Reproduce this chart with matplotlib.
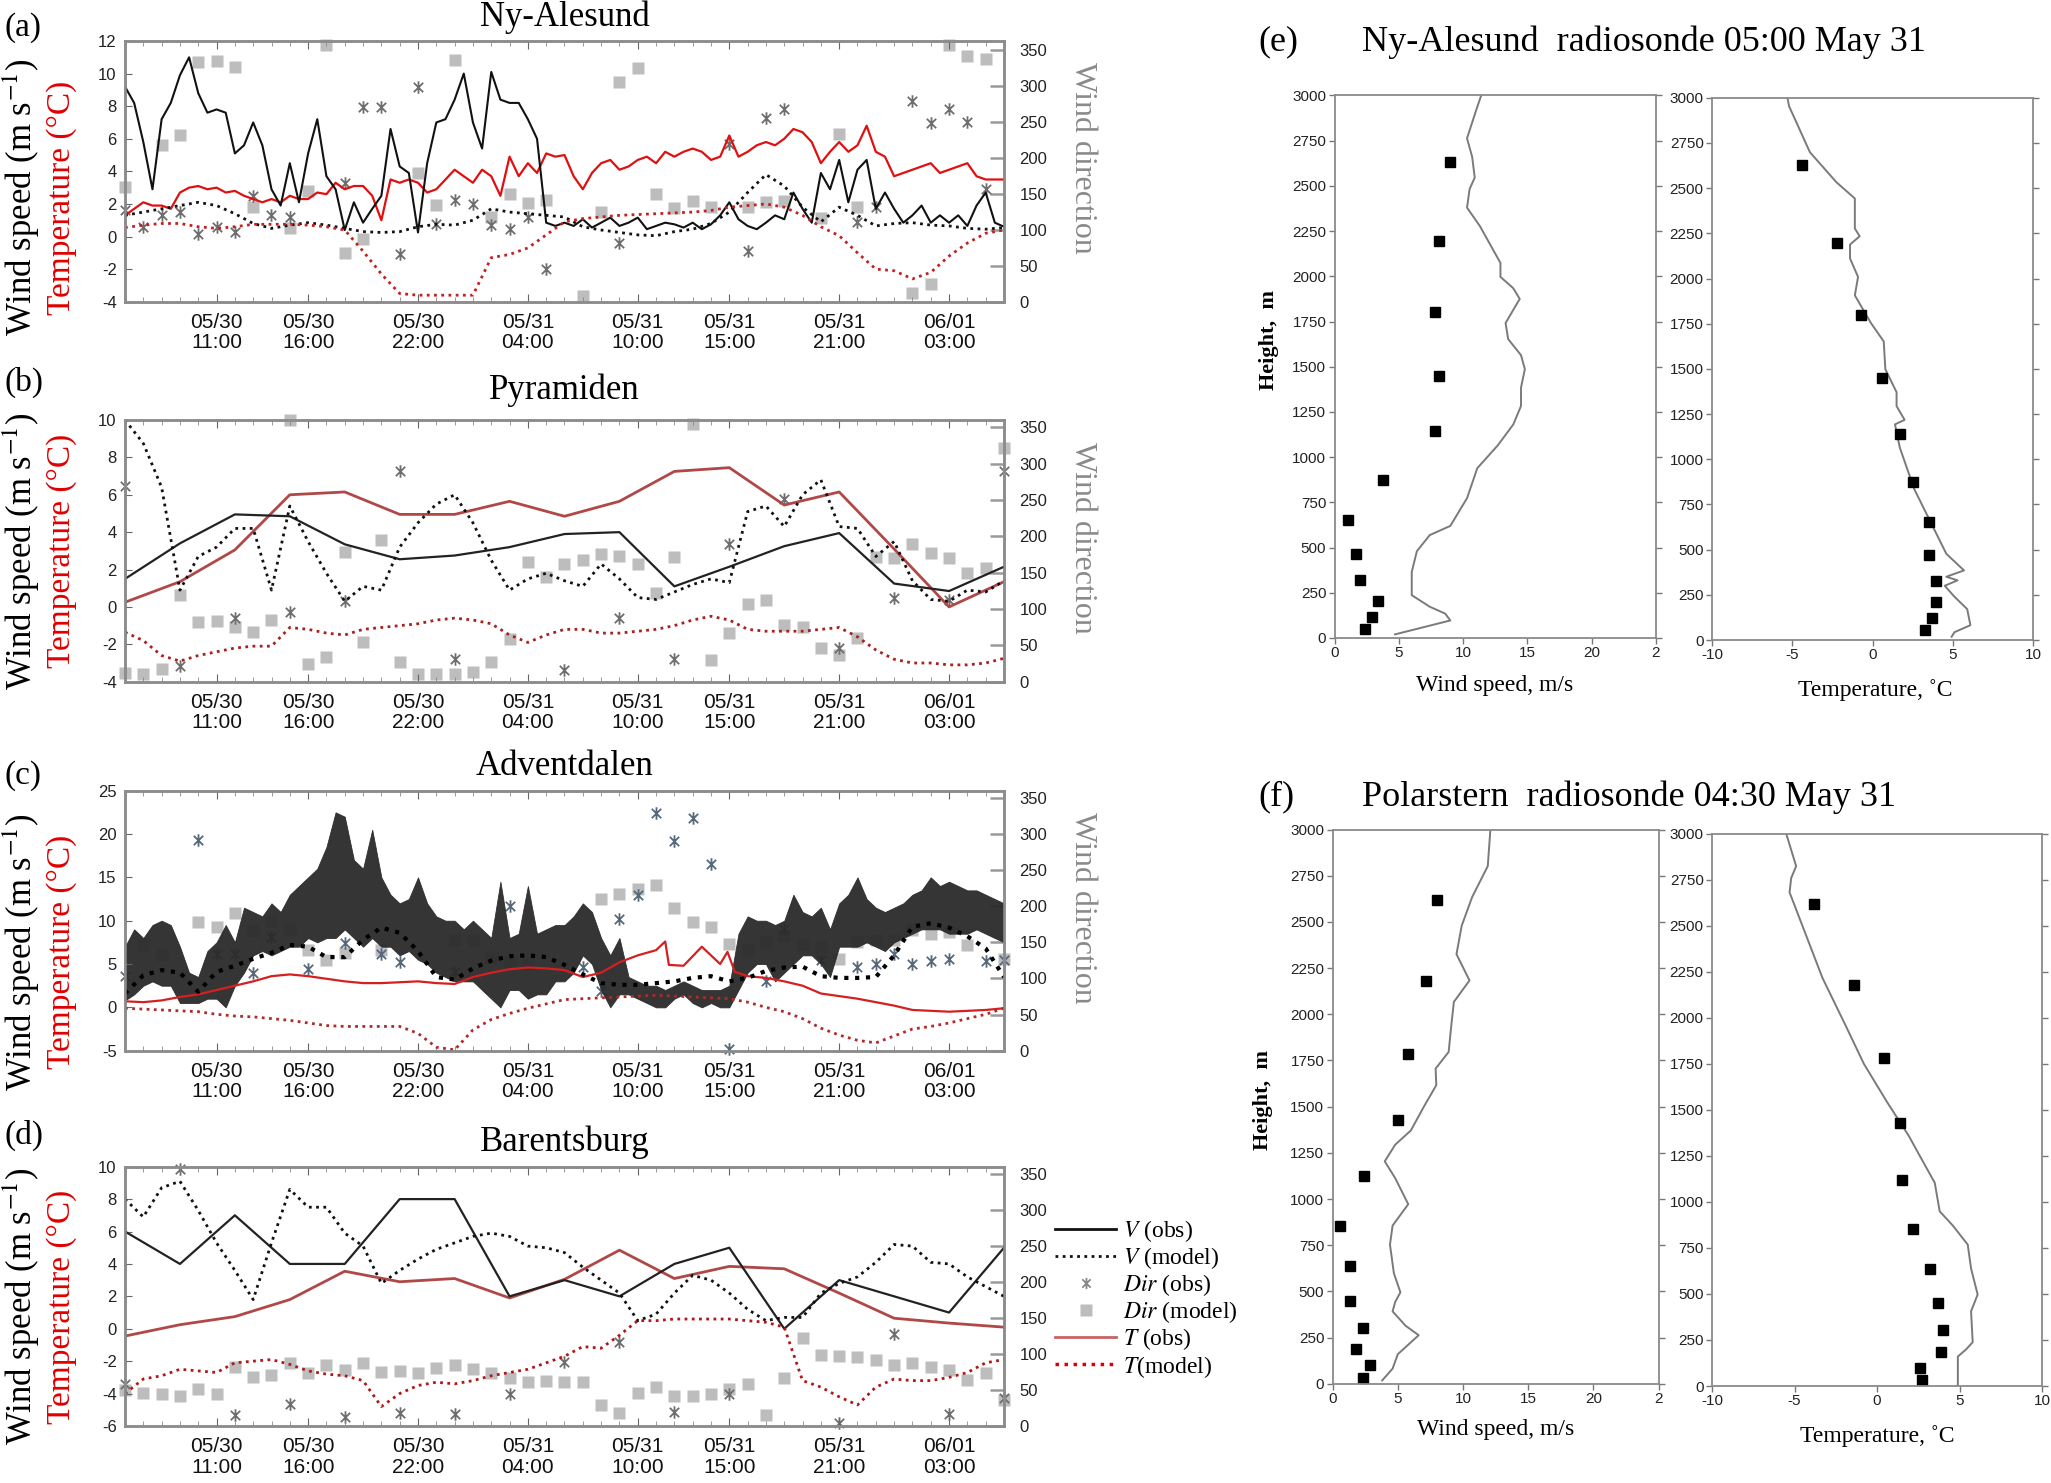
import numpy as np
import matplotlib
matplotlib.use('Agg')
from matplotlib import pyplot as plt
from matplotlib.lines import Line2D
from matplotlib.path import Path

SERIF = 'Liberation Serif'
SANS = 'Liberation Sans'
plt.rcParams['font.family'] = SANS
plt.rcParams['mathtext.fontset'] = 'stix'
plt.rcParams['axes.unicode_minus'] = False

# ---------------- time axis (hours after 05/30 06:00) ----------------
tick_hours = [5, 10, 16, 22, 28, 33, 39, 45]
tick_labels = ['05/30\n11:00', '05/30\n16:00', '05/30\n22:00', '05/31\n04:00',
               '05/31\n10:00', '05/31\n15:00', '05/31\n21:00', '06/01\n03:00']
h_half = np.arange(0, 48.5, 0.5)
h_hour = np.arange(0, 49)
h_3 = np.arange(0, 49, 3)

# ---------------- (a) Ny-Alesund ----------------
a_wind_obs = [9.2, 8.2, 5.8, 2.9, 7.2, 8.2, 9.9, 11.0, 8.8, 7.6,
              7.8, 7.6, 5.1, 5.6, 7.0, 5.6, 2.9, 1.9, 4.5, 2.1,
              5.1, 7.2, 3.7, 2.9, 0.4, 2.1, 0.85, 1.7, 2.5, 6.6,
              4.3, 3.9, 0.25, 4.5, 7.0, 7.2, 8.4, 10.0, 7.0, 5.4,
              10.1, 8.4, 8.2, 8.2, 7.2, 6.0, 0.85, 0.65, 0.85, 0.65,
              1.06, 0.55, 0.85, 1.16, 0.65, 0.85, 1.16, 0.45, 0.65, 0.85,
              0.75, 0.55, 0.85, 0.45, 0.75, 1.3, 2.1, 1.06, 0.65, 0.45,
              0.85, 1.3, 1.06, 2.7, 1.7, 0.85, 3.9, 2.9, 4.7, 2.1,
              4.1, 4.7, 1.7, 2.7, 1.7, 0.85, 1.3, 1.9, 0.85, 1.3,
              0.85, 1.3, 0.65, 1.9, 2.7, 0.85, 0.6]
a_temp_obs = [1.3, 1.7, 2.1, 1.9, 1.9, 1.7, 2.7, 3.0, 3.1, 2.9,
              3.0, 2.7, 2.8, 2.5, 2.3, 2.1, 2.3, 2.1, 2.5, 2.3,
              2.3, 2.7, 2.6, 3.3, 2.9, 3.1, 3.1, 2.5, 1.0, 3.5,
              3.3, 3.5, 3.3, 2.7, 2.9, 3.5, 4.1, 3.7, 3.3, 4.1,
              3.7, 2.5, 4.9, 3.7, 4.5, 3.9, 5.1, 4.9, 5.0, 3.7,
              2.9, 3.9, 4.5, 4.7, 4.1, 4.3, 4.7, 4.9, 4.5, 5.2,
              4.9, 5.2, 5.4, 5.2, 4.7, 4.9, 6.2, 4.9, 5.2, 5.6,
              5.8, 5.6, 6.0, 6.6, 6.4, 5.8, 4.5, 5.2, 5.8, 5.2,
              5.6, 6.8, 5.2, 4.9, 3.7, 3.9, 4.1, 4.3, 4.5, 3.9,
              4.1, 4.3, 4.5, 3.7, 3.5, 3.5, 3.5]
a_wind_mod = [1.3, 1.5, 1.7, 1.9, 2.1, 1.9, 1.4, 0.8, 0.5, 0.7,
              0.85, 0.7, 0.5, 0.3, 0.25, 0.3, 0.6, 0.75, 0.7, 1.0,
              1.7, 1.5, 1.4, 1.3, 1.2, 0.6, 0.4, 0.25, 0.1, 0.05,
              0.3, 0.45, 0.8, 1.5, 2.7, 3.8, 3.1, 1.8, 0.9, 1.8,
              1.3, 0.65, 0.8, 0.85, 0.7, 0.65, 0.5, 0.45, 0.55]
a_temp_mod = [0.55, 0.7, 0.8, 0.8, 0.6, 0.5, 0.6, 0.75, 0.75, 0.75,
              0.7, 0.6, 0.4, -0.9, -2.3, -3.5, -3.6, -3.6, -3.6, -3.6,
              -1.3, -1.1, -0.7, 0.1, 0.9, 1.1, 1.2, 1.3, 1.35, 1.4,
              1.45, 1.5, 1.6, 1.8, 1.9, 2.0, 1.8, 1.3, 0.6, 0.05,
              -1.0, -2.0, -2.1, -2.6, -2.2, -1.2, -0.4, 0.2, 0.4]
a_dir_obs_t = [0, 1, 2, 3, 4, 5, 6, 7, 8, 9, 12, 13, 14, 15, 16, 17, 18, 19, 20, 21,
               22, 23, 27, 33, 34, 35, 36, 40, 41, 43, 44, 45, 46, 47]
a_dir_obs = [127, 104, 121, 124, 94, 104, 97, 147, 121, 118, 165, 271, 271, 66, 298,
             108, 141, 136, 106, 101, 117, 46, 81, 219, 71, 255, 267, 110, 131, 278,
             248, 268, 250, 156]
a_dir_mod_t = [0, 2, 3, 4, 5, 6, 7, 9, 10, 11, 12, 13, 16, 17, 18, 20, 21, 22, 23, 25,
               26, 27, 28, 29, 30, 31, 32, 34, 35, 36, 38, 39, 40, 43, 44, 45, 46, 47]
a_dir_mod = [159, 217, 232, 333, 334, 326, 131, 103, 154, 356, 68, 87, 179, 134, 335,
             118, 149, 137, 141, 8, 125, 305, 324, 150, 130, 140, 132, 131, 138, 140,
             116, 233, 132, 12, 25, 357, 341, 337]

# ---------------- (b) Pyramiden ----------------
b_wind_obs = [1.5, 3.4, 4.95, 4.85, 3.35, 2.55, 2.75, 3.2, 3.9, 4.0, 1.1, 2.15, 3.25,
              3.95, 1.25, 0.85, 2.15]
b_temp_obs = [0.25, 1.35, 3.05, 6.0, 6.15, 4.95, 4.95, 5.65, 4.85, 5.65, 7.25, 7.45,
              5.45, 6.15, 3.1, 0.0, 1.35]
b_wind_mod = [10.0, 8.75, 6.4, 0.9, 2.7, 3.2, 4.2, 4.2, 0.9, 5.4,
              3.5, 1.8, 0.3, 1.1, 0.9, 3.2, 4.5, 5.5, 6.0, 4.5,
              2.5, 0.9, 1.5, 1.8, 1.4, 1.1, 2.3, 1.5, 0.5, 0.4,
              0.8, 1.2, 1.5, 1.3, 5.1, 5.4, 4.3, 6.0, 6.8, 4.3,
              4.2, 2.7, 3.5, 1.4, 0.4, 0.3, 0.9, 0.8, 1.4]
b_temp_mod = [-1.35, -1.8, -2.6, -2.9, -2.6, -2.4, -2.2, -2.1, -2.1, -1.1,
              -1.2, -1.4, -1.5, -1.2, -1.1, -1.0, -0.9, -0.7, -0.6, -0.7,
              -0.9, -1.5, -1.9, -1.5, -1.2, -1.2, -1.4, -1.4, -1.3, -1.2,
              -1.0, -0.7, -0.5, -0.7, -1.2, -1.3, -1.3, -1.3, -1.2, -1.1,
              -1.6, -2.3, -2.8, -3.0, -3.0, -3.1, -3.1, -3.0, -2.75]
b_dir_obs_t = [0, 3, 6, 9, 12, 15, 18, 24, 27, 30, 33, 36, 39, 42, 45, 48]
b_dir_obs = [269, 21, 87, 96, 111, 290, 31, 16, 87, 31, 190, 252, 47, 115, 113, 290]
b_dir_mod = [12, 11, 18, 119, 82, 84, 75, 68, 85, 360,
             25, 34, 179, 55, 195, 27, 11, 11, 11, 14,
             27, 59, 164, 144, 162, 167, 176, 173, 162, 122,
             171, 354, 30, 67, 107, 112, 78, 75, 47, 37,
             60, 171, 170, 190, 177, 170, 150, 157, 321]

# ---------------- (c) Adventdalen ----------------
# observed 1-min wind: lower / upper envelope read every half hour
c_wind_lo = [0.8, 1.5, 2.5, 3.0, 2.5, 2.5, 0.5, 0.5, 0.5, 1.0,
             1.0, 0.0, 2.5, 4.0, 6.0, 6.5, 6.0, 6.5, 7.0, 7.0,
             8.0, 7.5, 8.0, 8.0, 9.0, 8.0, 7.0, 8.0, 7.0, 7.0,
             6.0, 6.5, 5.5, 5.0, 4.0, 3.5, 3.0, 3.0, 3.0, 2.0,
             1.0, 0.0, 2.0, 2.0, 1.0, 1.5, 1.5, 3.0, 3.0, 4.0,
             6.0, 5.0, 2.0, 0.0, 1.5, 1.5, 1.0, 0.5, 0.0, 0.0,
             1.0, 1.5, 0.5, 0.0, 0.5, 0.0, 0.0, 2.0, 4.0, 5.0,
             5.0, 3.0, 4.0, 5.0, 6.0, 6.0, 5.0, 3.5, 7.0, 7.0,
             7.0, 7.5, 7.0, 6.5, 7.5, 8.0, 8.5, 9.0, 9.0, 9.0,
             8.5, 8.5, 8.5, 9.0, 8.5, 8.0, 7.5]
c_wind_hi = [7.0, 9.0, 8.0, 9.5, 10.0, 9.5, 7.0, 4.0, 3.5, 6.5,
             7.5, 9.5, 7.5, 11.5, 11.0, 10.5, 12.0, 11.0, 13.0, 14.0,
             15.0, 16.0, 18.5, 22.5, 22.0, 17.0, 16.0, 20.5, 15.0, 13.0,
             12.0, 12.5, 15.0, 12.0, 10.5, 10.0, 10.0, 9.0, 10.0, 9.0,
             8.0, 14.5, 8.0, 8.5, 14.0, 8.5, 9.0, 9.5, 9.5, 10.5,
             12.0, 11.0, 8.0, 6.0, 8.0, 3.5, 3.0, 2.5, 2.5, 2.0,
             2.5, 3.0, 2.5, 2.0, 2.0, 2.0, 2.5, 8.5, 10.5, 10.0,
             10.0, 9.5, 10.0, 13.0, 11.0, 10.5, 11.5, 9.0, 12.0, 13.0,
             15.0, 12.5, 11.5, 11.0, 11.5, 12.0, 13.0, 13.5, 15.0, 14.0,
             14.5, 14.0, 13.5, 13.5, 13.0, 12.5, 12.0]
c_temp_t = [0, 1, 2, 3, 4, 5, 6, 7, 8, 9, 10, 11, 12, 13, 14, 15, 16, 17, 18, 19,
            20, 21, 22, 23, 24, 25, 26, 27, 28, 29, 29.5, 29.7, 30.5, 31.5, 32.5, 32.9,
            33.3, 34, 35, 36, 37, 38, 39, 40, 41, 42, 43, 44, 45, 46, 47, 48]
c_temp_obs = [0.7, 0.6, 0.8, 1.2, 1.5, 2.0, 2.5, 3.0, 3.6, 3.8,
              3.6, 3.3, 3.0, 2.8, 2.8, 2.9, 3.0, 2.8, 2.7, 3.5,
              4.0, 4.4, 4.6, 4.5, 4.3, 3.5, 4.0, 5.2, 6.0, 6.6,
              7.6, 4.9, 4.8, 7.0, 5.0, 6.4, 4.1,
              3.6, 3.4, 3.0, 2.5, 1.6, 1.3, 1.0, 0.6, 0.2, -0.3, -0.4, -0.5, -0.4,
              -0.3, -0.1]
c_wind_mod = [1.6, 3.7, 4.3, 4.0, 1.8, 4.1, 4.8, 5.6, 6.3, 7.2,
              7.0, 5.8, 5.8, 7.8, 9.2, 8.6, 6.5, 3.5, 3.2, 4.5,
              5.4, 5.9, 6.0, 5.8, 4.9, 3.8, 2.8, 2.6, 2.6, 2.8,
              3.0, 3.4, 3.6, 3.0, 3.4, 4.2, 4.6, 4.7, 3.6, 3.4,
              3.4, 3.5, 6.0, 9.3, 9.7, 9.2, 8.2, 6.8, 3.5]
c_temp_mod = [-0.1, -0.2, -0.3, -0.4, -0.5, -0.8, -1.0, -1.1, -1.3, -1.5,
              -1.8, -2.1, -2.2, -2.2, -2.2, -2.2, -3.0, -4.6, -4.9, -2.6,
              -1.4, -0.7, -0.1, 0.4, 0.9, 1.0, 1.1, 1.2, 1.3, 1.4,
              1.3, 1.2, 1.1, 1.0, 0.6, 0.0, -0.5, -1.3, -2.4, -3.2,
              -3.8, -4.1, -3.3, -2.5, -2.2, -1.8, -1.3, -0.8, -0.1]
c_dir_obs_t = [0, 4, 5, 6, 7, 8, 10, 12, 14, 15, 18, 21, 25, 26, 27, 28, 29, 30, 31, 32,
               33, 35, 36, 38, 40, 41, 42, 43, 44, 45, 47, 48]
c_dir_obs = [104, 292, 134, 134, 107, 157, 113, 149, 134, 123, 109, 200, 116, 83, 182,
             215, 329, 290, 322, 259, 3, 96, 169, 125, 116, 120, 134, 120, 124, 127, 124, 125]
c_dir_mod_t = [1, 2, 4, 5, 6, 7, 8, 9, 10, 11, 12, 14, 18, 19, 20, 21, 22, 26, 27, 28,
               29, 30, 31, 32, 33, 34, 35, 36, 37, 38, 39, 40, 41, 42, 43, 44, 45, 46, 48]
c_dir_mod = [146, 132, 178, 171, 190, 166, 180, 169, 139, 125, 135, 139, 153, 153, 130,
             123, 120, 210, 217, 224, 230, 198, 178, 171, 148, 139, 150, 159, 148, 143,
             127, 150, 153, 153, 167, 162, 164, 146, 127]

# ---------------- (d) Barentsburg ----------------
d_wind_obs = [6, 4, 7, 4, 4, 8, 8, 2, 3, 2, 4, 5, 0, 3, 2, 1, 5]
d_temp_obs = [-0.45, 0.25, 0.75, 1.8, 3.55, 2.9, 3.1, 1.9, 3.05, 4.85, 3.1, 3.85, 3.7,
              2.2, 0.65, 0.35, 0.1]
d_wind_mod = [8.0, 6.9, 8.7, 9.1, 7.3, 5.3, 3.6, 1.8, 5.3, 8.6,
              7.5, 7.5, 5.9, 5.1, 2.8, 3.6, 4.3, 4.9, 5.3, 5.7,
              5.9, 5.7, 5.1, 5.0, 4.7, 3.8, 3.0, 2.2, 0.5, 0.9,
              2.2, 3.3, 3.0, 2.2, 1.2, 0.5, 0.7, 0.7, 2.2, 2.8,
              3.2, 4.1, 5.2, 5.1, 4.1, 4.0, 3.2, 2.6, 2.0]
d_temp_mod = [-4.0, -3.1, -2.9, -2.5, -2.6, -2.7, -2.1, -2.0, -1.9, -2.2,
              -2.6, -2.8, -2.9, -3.2, -4.8, -4.0, -3.5, -3.3, -3.4, -3.2,
              -2.9, -2.7, -2.5, -2.1, -1.7, -1.1, -1.2, -0.4, 0.5, 0.5,
              0.6, 0.6, 0.6, 0.6, 0.5, 0.4, 0.1, -3.2, -3.6, -4.2,
              -4.7, -3.6, -3.1, -3.2, -3.2, -3.0, -2.7, -2.1, -1.9]
d_dir_obs_t = [0, 3, 6, 9, 12, 15, 18, 21, 24, 27, 30, 33, 39, 42, 45, 48]
d_dir_obs = [59, 357, 15, 31, 13, 18, 16, 45, 89, 116, 20, 44, 4, 128, 16, 39]
d_dir_mod = [50, 46, 44, 41, 51, 45, 82, 68, 71, 87,
             73, 84, 78, 87, 75, 76, 73, 81, 84, 79,
             73, 67, 61, 63, 61, 61, 29, 18, 46, 54,
             42, 41, 45, 51, 59, 15, 66, 122, 98, 97,
             96, 92, 85, 88, 82, 78, 64, 74, 36]

# ---------------- (e) Ny-Alesund radiosonde ----------------
e_wind_obs_h = [20, 97, 135, 173, 237, 365, 480, 569, 620, 773, 939, 1066, 1181, 1283,
                1385, 1487, 1564, 1653, 1742, 1875, 1934, 1997, 2074, 2176, 2278, 2380,
                2482, 2546, 2661, 2763, 2916, 3000]
e_wind_obs = [4.7, 9.0, 8.6, 7.4, 6.0, 6.0, 6.4, 7.4, 9.0, 10.3, 11.1, 12.7, 13.9, 14.5,
              14.5, 14.8, 14.5, 13.5, 13.3, 14.4, 13.9, 12.9, 12.9, 12.1, 11.3, 10.3,
              10.5, 10.9, 10.7, 10.3, 11.0, 11.4]
e_wind_mod_h = [51, 117, 204, 321, 467, 650, 875, 1143, 1449, 1801, 2196, 2635]
e_wind_mod = [2.35, 2.9, 3.4, 2.0, 1.7, 1.05, 3.8, 7.8, 8.1, 7.8, 8.1, 9.0]
e_temp_obs_h = [18, 43, 82, 171, 240, 300, 330, 350, 385, 477, 656, 835, 1065, 1193,
                1218, 1294, 1371, 1498, 1652, 1754, 1907, 2009, 2111, 2188, 2234, 2277,
                2443, 2533, 2699, 2954, 3000]
e_temp_obs = [4.93, 5.1, 6.1, 5.9, 5.1, 4.5, 5.3, 4.6, 5.7, 4.6, 3.6, 2.6, 1.7, 1.4,
              2.0, 1.5, 1.5, 0.8, 0.7, -0.1, -1.1, -0.9, -1.4, -1.4, -0.8, -1.1,
              -1.1, -2.25, -3.9, -5.2, -5.3]
e_temp_mod_h = [56, 120, 209, 324, 470, 651, 873, 1141, 1448, 1800, 2195, 2629]
e_temp_mod = [3.3, 3.7, 3.95, 3.95, 3.5, 3.5, 2.5, 1.7, 0.6, -0.7, -2.2, -4.4]

# ---------------- (f) Polarstern radiosonde ----------------
f_wind_obs_h = [18, 82, 160, 263, 314, 392, 443, 495, 598, 753, 856, 972, 1113, 1204,
                1294, 1371, 1500, 1616, 1706, 1796, 1938, 2067, 2183, 2325, 2479, 2634,
                2802, 3000]
f_wind_obs = [3.8, 4.6, 5.0, 6.6, 5.6, 4.6, 4.8, 5.2, 4.7, 4.4, 4.6, 5.8, 4.8, 4.0,
              4.8, 6.0, 7.0, 7.95, 7.9, 8.9, 9.1, 9.3, 10.5, 9.5, 9.9, 10.7, 11.9, 12.1]
f_wind_mod_h = [31, 101, 186, 302, 448, 637, 856, 1126, 1430, 1784, 2178, 2616]
f_wind_mod = [2.3, 2.9, 1.8, 2.3, 1.3, 1.3, 0.6, 2.4, 5.0, 5.8, 7.2, 8.0]
f_temp_obs_h = [0, 160, 199, 238, 406, 497, 639, 768, 871, 949, 1104, 1233, 1363, 1544,
                1751, 1958, 2216, 2449, 2682, 2760, 2824, 3000]
f_temp_obs = [4.9, 4.9, 5.4, 5.8, 5.7, 6.1, 5.7, 5.5, 4.6, 3.8, 3.5, 2.7, 1.9, 0.6,
              -0.8, -1.9, -3.3, -4.3, -5.3, -5.2, -4.9, -5.5]
f_temp_mod_h = [31, 96, 186, 303, 450, 634, 853, 1117, 1427, 1782, 2177, 2617]
f_temp_mod = [2.7, 2.6, 3.9, 4.0, 3.7, 3.2, 2.2, 1.5, 1.4, 0.4, -1.4, -3.8]

W, H = 2051, 1483
fig = plt.figure(figsize=(W / 100, H / 100), dpi=100)


def px_rect(x0, y0, x1, y1):
    # pixel box (top-left origin) -> figure fraction rect
    return [x0 / W, 1 - y1 / H, (x1 - x0) / W, (y1 - y0) / H]


DOT = (0, (1, 1.6))
# gnuplot-like star: an x with a vertical bar through it
STAR = Path([(0, -1), (0, 1), (-0.75, -0.75), (0.75, 0.75), (-0.75, 0.75), (0.75, -0.75)],
            [Path.MOVETO, Path.LINETO, Path.MOVETO, Path.LINETO, Path.MOVETO, Path.LINETO])


def station(rect, ylim, yticks, title, title_pad, lab_y, dir_top=360, dir_label=True):
    ax = fig.add_axes(rect)
    ax2 = ax.twinx()
    ax.set_zorder(ax2.get_zorder() + 1)
    ax.patch.set_visible(False)
    ax.set_xlim(0, 48)
    ax.set_ylim(ylim)
    ax2.set_ylim(0, dir_top)
    ax.set_yticks(yticks)
    ax.set_xticks(tick_hours)
    ax.set_xticklabels(tick_labels, fontsize=15, linespacing=1.1)
    ax.set_xticks(np.arange(0, 49, 1), minor=True)
    ax.tick_params(axis='x', which='major', direction='in', length=6, top=True,
                   pad=8, color='#666', labelcolor='#111')
    ax.tick_params(axis='x', which='minor', direction='in', length=3.5, top=True,
                   color='#888')
    ax.tick_params(axis='y', direction='in', length=5, labelsize=12, pad=6,
                   color='#666', labelcolor='#222')
    ax2.set_yticks(np.arange(0, 351, 50))
    ax2.tick_params(axis='y', direction='in', length=10, width=1.8, color='#9a9a9a',
                    labelsize=12, pad=11, labelcolor='#222')
    for a in (ax, ax2):
        for s in a.spines.values():
            s.set_color('#8c8c8c')
            s.set_linewidth(1.8)
    ax.set_title(title, fontsize=25, family=SERIF, pad=title_pad)
    ax.text(-0.118, lab_y, 'Wind speed (m s$^{-1}$)', transform=ax.transAxes,
            rotation=90, ha='center', va='center', fontsize=25, family=SERIF)
    ax.text(-0.072, lab_y, 'Temperature (°C)', transform=ax.transAxes,
            rotation=90, ha='center', va='center', fontsize=24, family=SERIF,
            color='#e00000')
    if dir_label:
        ax.text(1.089, 0.55, 'Wind direction', transform=ax.transAxes,
                rotation=270, ha='center', va='center', fontsize=23, family=SERIF,
                color='#8a8a8a')
    return ax, ax2


def dir_marks(ax2, t_obs, v_obs, t_mod, v_mod, obs_color='#6e6e6e'):
    ax2.plot(t_mod, v_mod, ls='none', marker='s', ms=8, mfc='#bdbdbd', mec='none',
             clip_on=False)
    ax2.plot(t_obs, v_obs, ls='none', marker=STAR, ms=9, mec=obs_color, mew=1.3,
             clip_on=False)


# (a)
ax, ax2 = station(px_rect(125, 41, 1004, 301.7), (-4, 12), np.arange(-4, 13, 2),
                  'Ny-Alesund', 11, 0.40, dir_top=362)
dir_marks(ax2, a_dir_obs_t, a_dir_obs, a_dir_mod_t, a_dir_mod)
ax.plot(h_half, a_temp_obs, color='#e01010', lw=1.6)
ax.plot(h_half, a_wind_obs, color='#111111', lw=1.5)
ax.plot(h_hour, a_wind_mod, color='#111111', lw=2, ls=DOT)
ax.plot(h_hour, a_temp_mod, color='#c42020', lw=2, ls=DOT)

# (b)
ax, ax2 = station(px_rect(125, 420, 1004, 681.7), (-4, 10), np.arange(-4, 11, 2),
                  'Pyramiden', 15, 0.50)
dir_marks(ax2, b_dir_obs_t, b_dir_obs, h_hour, b_dir_mod)
ax.plot(h_3, b_temp_obs, color='#b04848', lw=2)
ax.plot(h_3, b_wind_obs, color='#222222', lw=1.6)
ax.plot(h_hour, b_wind_mod, color='#111111', lw=2, ls=DOT)
ax.plot(h_hour, b_temp_mod, color='#a82020', lw=2, ls=DOT)

# (c)
ax, ax2 = station(px_rect(125, 790.7, 1004, 1050.7), (-5, 25), np.arange(-5, 26, 5),
                  'Adventdalen', 11, 0.38)
dir_marks(ax2, c_dir_obs_t, c_dir_obs, c_dir_mod_t, c_dir_mod, obs_color='#56687a')
ax.fill_between(h_half, c_wind_lo, c_wind_hi, color='#2a2a2a', lw=0.6, alpha=0.95)
ax.plot(c_temp_t, c_temp_obs, color='#d42020', lw=1.6)
ax.plot(h_hour, c_wind_mod, color='#000000', lw=3, ls=DOT)
ax.plot(h_hour, c_temp_mod, color='#b02a2a', lw=2, ls=DOT)

# (d)
ax, ax2 = station(px_rect(125, 1166.7, 1004, 1426), (-6, 10), np.arange(-6, 11, 2),
                  'Barentsburg', 11, 0.46, dir_label=False)
dir_marks(ax2, d_dir_obs_t, d_dir_obs, h_hour, d_dir_mod)
ax.plot(h_3, d_temp_obs, color='#b04848', lw=2)
ax.plot(h_3, d_wind_obs, color='#222222', lw=1.6)
ax.plot(h_hour, d_wind_mod, color='#111111', lw=2, ls=DOT)
ax.plot(h_hour, d_temp_mod, color='#b01818', lw=2, ls=DOT)

# panel letters
for letter, yc in [('(a)', 28), ('(b)', 382), ('(c)', 776), ('(d)', 1135)]:
    fig.text(4 / W, 1 - yc / H, letter, fontsize=24, family=SERIF, va='center', ha='left')

# legend
handles = [Line2D([], [], color='#111111', lw=2),
           Line2D([], [], color='#111111', lw=2, ls=DOT),
           Line2D([], [], ls='none', marker=STAR, ms=8, mec='#888888', mew=1.3),
           Line2D([], [], ls='none', marker='s', ms=8, mfc='#bdbdbd', mec='none'),
           Line2D([], [], color='#c86464', lw=2),
           Line2D([], [], color='#dd0000', lw=2.5, ls=DOT)]
labels = ['$V$ (obs)', '$V$ (model)', '$Dir$ (obs)', '$Dir$ (model)', '$T$ (obs)',
          '$T$(model)']
fig.legend(handles, labels, loc='upper left', bbox_to_anchor=(1055 / W, 1 - 1218 / H),
           frameon=False, prop={'family': SERIF, 'size': 17}, labelspacing=0.05,
           handlelength=2.6, handletextpad=0.3, borderpad=0, borderaxespad=0)


# ---------------- radiosonde panels ----------------
def sonde(rect, xlim, xticks, xticklabels):
    ax = fig.add_axes(rect)
    ax.set_xlim(xlim)
    ax.set_ylim(0, 3000)
    ax.set_yticks(np.arange(0, 3001, 250))
    ax.set_xticks(xticks)
    ax.set_xticklabels(xticklabels)
    ax.tick_params(direction='out', length=4, width=1, color='#777', labelsize=11,
                   labelcolor='#222', right=True, pad=2)
    for s in ax.spines.values():
        s.set_color('#8a8a8a')
        s.set_linewidth(1.3)
    return ax


wind_ticks = [0, 5, 10, 15, 20, 25]
wind_tlabels = ['0', '5', '10', '15', '20', '2']
temp_ticks = [-10, -5, 0, 5, 10]
temp_tlabels = ['-10', '-5', '0', '5', '10']

ax = sonde(px_rect(1334.6, 95.5, 1656, 638), (0, 25), wind_ticks, wind_tlabels)
ax.plot(e_wind_obs, e_wind_obs_h, color='#7a7a7a', lw=1.4)
ax.plot(e_wind_mod, e_wind_mod_h, ls='none', marker='s', ms=6.5, color='#000000')
ax = sonde(px_rect(1712, 97.8, 2033, 640), (-10, 10), temp_ticks, temp_tlabels)
ax.plot(e_temp_obs, e_temp_obs_h, color='#7a7a7a', lw=1.4)
ax.plot(e_temp_mod, e_temp_mod_h, ls='none', marker='s', ms=6.5, color='#000000')

ax = sonde(px_rect(1332.6, 829.5, 1658.6, 1383.8), (0, 25), wind_ticks, wind_tlabels)
ax.plot(f_wind_obs, f_wind_obs_h, color='#7a7a7a', lw=1.4)
ax.plot(f_wind_mod, f_wind_mod_h, ls='none', marker='s', ms=6.5, color='#000000')
ax = sonde(px_rect(1712, 833.8, 2042, 1386), (-10, 10), temp_ticks, temp_tlabels)
ax.plot(f_temp_obs, f_temp_obs_h, color='#7a7a7a', lw=1.4)
ax.plot(f_temp_mod, f_temp_mod_h, ls='none', marker='s', ms=6.5, color='#000000')

# sonde titles and labels
fig.text(1258 / W, 1 - 42 / H, '(e)', fontsize=26, family=SERIF, va='center')
fig.text(1362 / W, 1 - 42 / H, 'Ny-Alesund  radiosonde 05:00 May 31', fontsize=26,
         family=SERIF, va='center')
fig.text(1258 / W, 1 - 797 / H, '(f)', fontsize=26, family=SERIF, va='center')
fig.text(1362 / W, 1 - 797 / H, 'Polarstern  radiosonde 04:30 May 31', fontsize=26,
         family=SERIF, va='center')

for x, y in [(1269, 340), (1263, 1100)]:
    fig.text(x / W, 1 - y / H, 'Height,  m', fontsize=16, family=SERIF,
             fontweight='bold', rotation=90, ha='center', va='center')
for x, y, s in [(1495, 686, 'Wind speed, m/s'), (1875, 690, 'Temperature, ˚C'),
                (1496, 1430, 'Wind speed, m/s'), (1877, 1436, 'Temperature, ˚C')]:
    fig.text(x / W, 1 - y / H, s, fontsize=17, family=SERIF, ha='center', va='center')

fig.savefig('out.png', dpi=100)
